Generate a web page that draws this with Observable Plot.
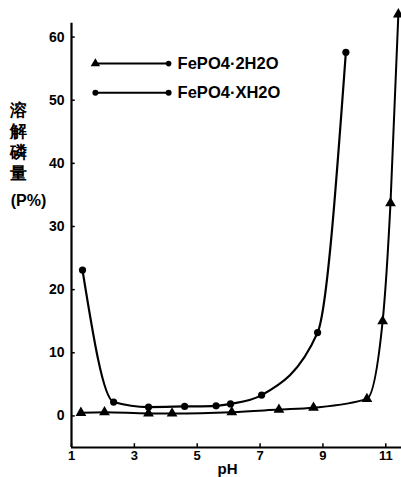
<!DOCTYPE html>
<html><head><meta charset="utf-8">
<script src="https://cdn.jsdelivr.net/npm/d3@7"></script>
<script src="https://cdn.jsdelivr.net/npm/@observablehq/plot@0.6"></script>
<style>body{margin:0;background:#fff} svg{display:block}</style>
</head><body><div id="chart"></div>
<script>
// Data
const pH2 = [1.3, 2.05, 3.45, 4.2, 6.1, 7.6, 8.7, 10.4, 10.9, 11.15, 11.4];
const val2 = [0.5, 0.6, 0.4, 0.4, 0.6, 1.0, 1.3, 2.7, 15, 33.7, 63.6];
const pHX = [1.35, 2.34, 3.45, 4.6, 5.6, 6.06, 7.05, 8.83, 9.73];
const valX = [23.1, 2.2, 1.4, 1.5, 1.6, 1.9, 3.3, 13.2, 57.6];
const seriesNames = ["FePO4·2H2O", "FePO4·XH2O"];
const xTicks = [1, 3, 5, 7, 9, 11];
const yTicks = [0, 10, 20, 30, 40, 50, 60];
const yLabel = "溶\n解\n磷\n量";
const yUnit = "(P%)";
const xLabel = "pH";

// Layout
const legendX = [1.76, 4.09];
const legendY = [55.8, 51.2];
const font = "'Liberation Sans', Arial, sans-serif";

const s2 = pH2.map((x, i) => ({x, y: val2[i]}));
const sX = pHX.map((x, i) => ({x, y: valX[i]}));
const leg = seriesNames.map((name, i) => ({name, y: legendY[i]}));

const chart = Plot.plot({
  width: 401,
  height: 477,
  marginLeft: 71,
  marginRight: 0,
  marginTop: 5,
  marginBottom: 30,
  style: {fontFamily: font, color: "#000", background: "#fff"},
  x: {domain: [1, 11.5]},
  y: {domain: [-5, 65]},
  marks: [
    // axis lines
    Plot.ruleX([1], {y1: -5, y2: 62.2, stroke: "#000", strokeWidth: 2.2}),
    Plot.ruleY([-5], {x1: 1, x2: 11.5, stroke: "#000", strokeWidth: 2.2}),
    // inward ticks
    Plot.ruleY(yTicks, {x1: 1, x2: 1.12, stroke: "#000", strokeWidth: 1.5}),
    Plot.ruleX(xTicks, {y1: -5, y2: -4.4, stroke: "#000", strokeWidth: 1.5}),
    Plot.axisY(yTicks, {tickSize: 0, tickPadding: 7, fontSize: 14, fontWeight: "bold", label: null}),
    Plot.axisX(xTicks, {tickSize: 0, tickPadding: 3, fontSize: 13, fontWeight: "bold", label: null}),
    // series
    Plot.line(s2, {x: "x", y: "y", curve: "monotone-x", stroke: "#000", strokeWidth: 2}),
    Plot.dot(s2, {x: "x", y: "y", symbol: "triangle", r: 4, fill: "#000"}),
    Plot.line(sX, {x: "x", y: "y", curve: "monotone-x", stroke: "#000", strokeWidth: 2.2}),
    Plot.dot(sX, {x: "x", y: "y", r: 3.6, fill: "#000"}),
    // legend
    Plot.ruleY(leg, {y: "y", x1: legendX[0], x2: legendX[1], stroke: "#000", strokeWidth: 2}),
    Plot.dot([leg[0]], {x: () => legendX[0], y: "y", symbol: "triangle", r: 3.5, fill: "#000"}),
    Plot.dot([leg[0]], {x: () => legendX[1], y: "y", r: 2.8, fill: "#000"}),
    Plot.dot([leg[1]], {x: () => legendX[0], y: "y", r: 3, fill: "#000"}),
    Plot.dot([leg[1]], {x: () => legendX[1], y: "y", r: 3, fill: "#000"}),
    Plot.text(leg, {x: () => legendX[1], y: "y", text: "name", dx: 9, textAnchor: "start", fontSize: 16.5, fontWeight: "bold", fill: "#000"}),
    // axis titles
    Plot.text([yLabel], {frameAnchor: "top-left", dx: -53, dy: 95, textAnchor: "middle", lineAnchor: "top", lineHeight: 1.25, fontSize: 17, fontWeight: "bold", fill: "#000"}),
    Plot.text([yUnit], {frameAnchor: "top-left", dx: -43, dy: 195, textAnchor: "middle", lineAnchor: "middle", fontSize: 16, fontWeight: "bold", fill: "#000"}),
    Plot.text([xLabel], {frameAnchor: "bottom-left", dx: 156, dy: 22, textAnchor: "middle", lineAnchor: "middle", fontSize: 15, fontWeight: "bold", fill: "#000"})
  ]
});
document.getElementById("chart").append(chart);
</script>
</body></html>
